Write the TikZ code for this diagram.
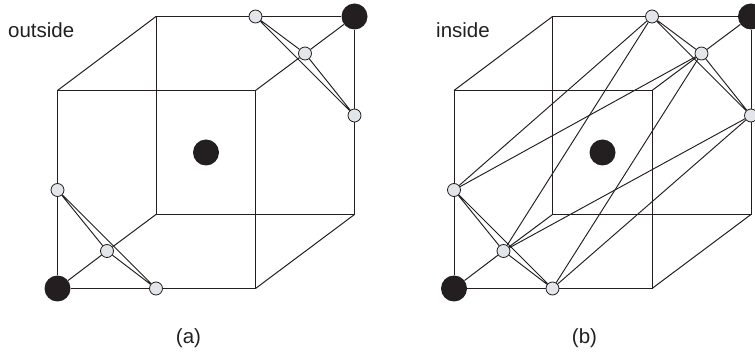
\documentclass[tikz,border=0pt]{standalone}
\usepackage{fontspec}
\setmainfont{Liberation Sans}
\definecolor{ink}{HTML}{231F20}
\definecolor{dotgrey}{HTML}{E2E5EA}
\tikzset{
  edgeline/.style={draw=ink,line width=1pt},
  inner line/.style={draw=ink,line width=0.95pt},
  bigdot/.style={circle,fill=ink,draw=none,minimum size=26pt,inner sep=0pt},
  smalldot/.style={circle,fill=dotgrey,draw=ink,line width=0.8pt,minimum size=13pt,inner sep=0pt},
  lab/.style={inner sep=0pt,text=ink,font=\fontsize{20.5}{24}\selectfont}
}
\newcommand{\cubepanel}[2]{%
  \begin{scope}[xshift=#2pt]
    \coordinate (#1fa) at (57.5,90.5);
    \coordinate (#1fb) at (255.5,90.5);
    \coordinate (#1fc) at (255.5,288.5);
    \coordinate (#1ba) at (156,16.5);
    \coordinate (#1bc) at (354.5,214.5);
    \coordinate (#1bd) at (156,214.5);
    \node[bigdot] (#1tr) at (354.5,16.5) {};
    \node[bigdot] (#1bl) at (57.5,288.5) {};
    \node[bigdot] (#1mid) at (206,152.5) {};
    \node[smalldot] (#1p) at (255.5,16.5) {};
    \node[smalldot] (#1q) at (305,53.5) {};
    \node[smalldot] (#1r) at (354.5,115.5) {};
    \node[smalldot] (#1s) at (57.5,190) {};
    \node[smalldot] (#1t) at (107,251) {};
    \node[smalldot] (#1u) at (156,288.5) {};
    \draw[edgeline] (#1fa) -- (#1fb) -- (#1fc) -- (#1u) -- (#1bl) -- (#1s) -- (#1fa);
    \draw[edgeline] (#1ba) -- (#1p) -- (#1tr) -- (#1r) -- (#1bc) -- (#1bd) -- (#1ba);
    \draw[edgeline] (#1fa) -- (#1ba);
    \draw[edgeline] (#1fb) -- (#1q) -- (#1tr);
    \draw[edgeline] (#1bl) -- (#1t) -- (#1bd);
    \draw[edgeline] (#1fc) -- (#1bc);
    \draw[inner line] (#1p) -- (#1q) -- (#1r) -- (#1p);
    \draw[inner line] (#1s) -- (#1t) -- (#1u) -- (#1s);
  \end{scope}}
\begin{document}
\begin{tikzpicture}[x=1pt,y=-1pt]
\useasboundingbox (0,0) rectangle (755,352);
\cubepanel{a}{0}
\cubepanel{b}{396.5}
\draw[inner line] (bp) -- (bs);
\draw[inner line] (bp) -- (bt);
\draw[inner line] (bq) -- (bs);
\draw[inner line] (bq) -- (bu);
\draw[inner line] (br) -- (bt);
\draw[inner line] (br) -- (bu);
\node[lab,anchor=base west] (outl) at (8,38) {outside};
\node[lab,anchor=base west] (inl) at (436,38) {inside};
\node[lab] (capa) at (188.5,338.5) {(a)};
\node[lab] (capb) at (584.5,338.5) {(b)};
\end{tikzpicture}
\end{document}
